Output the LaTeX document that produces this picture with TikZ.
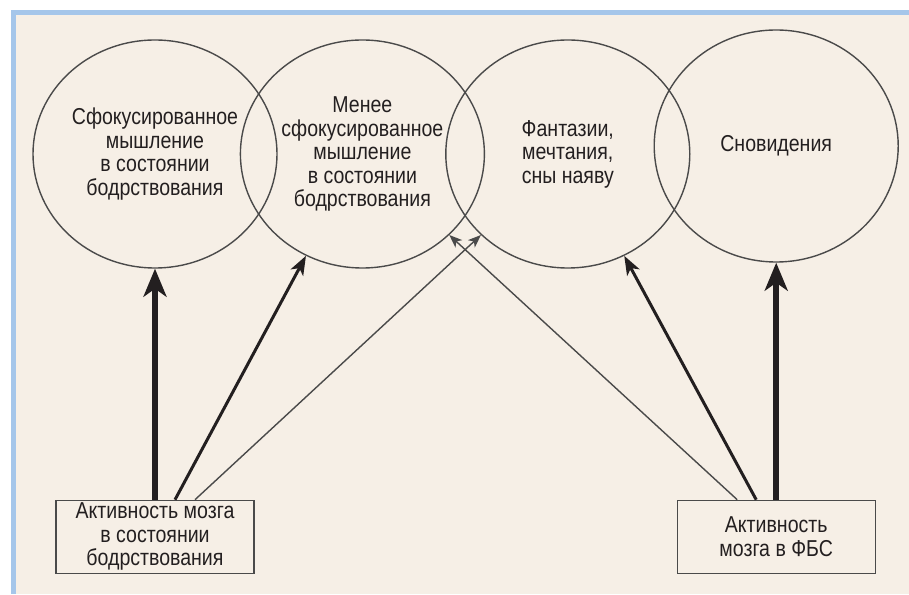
\documentclass[tikz,border=0pt]{standalone}
\usepackage{fontspec}
\setmainfont[FakeStretch=0.85]{Liberation Sans}
\usepackage{tikz}
\usetikzlibrary{shapes,arrows.meta,positioning,calc}
\definecolor{paper}{HTML}{F6EFE6}
\definecolor{frameblue}{HTML}{A5C6EA}
\definecolor{ink}{HTML}{231F20}
\definecolor{rim}{HTML}{4A4A4A}
\begin{document}
\begin{tikzpicture}[
      x=1pt,y=1pt,
      every node/.style = {font=\fontsize{23}{23.5}\selectfont,text=ink},
      state/.style = {ellipse,draw=rim,line width=1.4pt,minimum width=244pt,minimum height=228pt,inner sep=0,align=center},
      source/.style = {rectangle,draw=rim,line width=1.4pt,minimum width=198pt,minimum height=73pt,inner sep=0,align=center},
      strong/.style = {draw=ink,line width=6pt,-{Stealth[length=28pt,width=23pt,inset=8pt]}},
      middle/.style = {draw=ink,line width=3pt,-{Stealth[length=19pt,width=14pt,inset=5pt]}},
      weak/.style = {draw=rim,line width=1.4pt,-{Stealth[length=13pt,width=10pt,inset=3.5pt]}}
      ]
      \useasboundingbox (0,0) rectangle (909,594);
      \fill[white] (0,0) rectangle (909,594);
      \fill[paper] (11,0) rectangle (909,584);
      \fill[frameblue] (11,0) rectangle (16,584);
      \fill[frameblue] (11,579) rectangle (909,584);

      \node (focused)[state] at (155,440) {Сфокусированное\\мышление\\в состоянии\\бодрствования};
      \node (lessfocused)[state,right = -38pt of focused] {Менее\\сфокусированное\\мышление\\в состоянии\\бодрствования};
      \node (fantasy)[state,right = -40pt of lessfocused] {Фантазии,\\мечтания,\\сны наяву};
      \node (dreams)[state,minimum height=232pt,right = -37pt of fantasy,yshift=8pt] {Сновидения};

      \node (wake)[source,below = 231pt of focused] {Активность мозга\\в состоянии\\бодрствования};
      \node (rem)[source,below = 237pt of dreams] {Активность\\мозга в ФБС};

      \draw[strong] (wake.north) -- (focused.south);
      \draw[middle] ([xshift=20pt]wake.north) -- (lessfocused.241);
      \draw[weak] ([xshift=40pt]wake.north) -- (fantasy.223);
      \draw[weak] ([xshift=-39pt]rem.north) -- (lessfocused.317);
      \draw[middle] ([xshift=-20pt]rem.north) -- (fantasy.299);
      \draw[strong] (rem.north) -- (dreams.south);
    \end{tikzpicture}
\end{document}
